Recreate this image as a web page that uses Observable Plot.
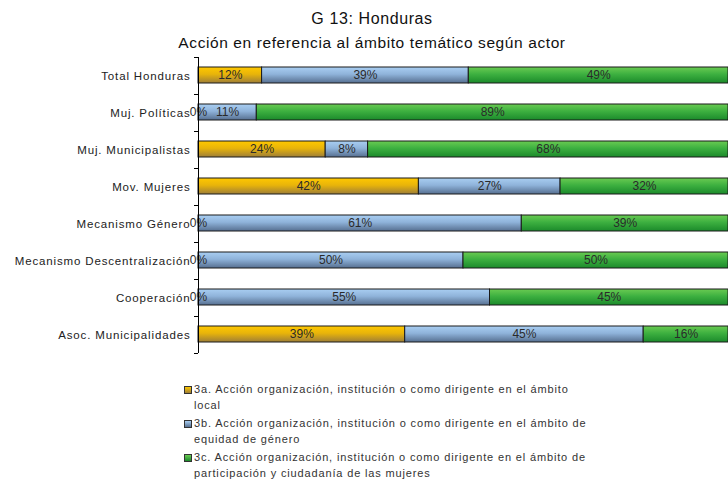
<!DOCTYPE html>
<html>
<head>
<meta charset="utf-8">
<script src="https://cdn.jsdelivr.net/npm/d3@7"></script>
<script src="https://cdn.jsdelivr.net/npm/@observablehq/plot@0.6"></script>
<style>
  html, body { margin: 0; padding: 0; background: #fff; }
  body { width: 728px; height: 486px; overflow: hidden; font-family: "Liberation Sans", Arial, sans-serif; color: #222; position: relative; }
  #title { height: 57px; padding-top: 8px; box-sizing: border-box; text-align: center; padding-left: 16px; font-family: "Liberation Sans", Arial, sans-serif; color: #111; }
  #title span { white-space: nowrap; }
  #title .t1 { font-size: 16px; line-height: 21px; letter-spacing: 0.6px; }
  #title .t2 { font-size: 15.5px; line-height: 28px; letter-spacing: 0.6px; }
  #chart svg { display: block; overflow: visible; }
  g[aria-label="y-axis tick label"] text { letter-spacing: 0.85px; }
  #legend { padding-top: 28px; padding-left: 184px; font-size: 11px; letter-spacing: 0.85px; color: #333; }
  .item { display: flex; align-items: flex-start; margin-bottom: 2px; line-height: 16px; }
  .sw { width: 6px; height: 6px; border: 1px solid #333; margin-top: 4.5px; margin-right: 2px; flex: none; }
  .lab { white-space: pre; }
</style>
</head>
<body>
<div id="title"><div class="t1"><span>G 13: Honduras</span></div><div class="t2"><span>Acción en referencia al ámbito temático según actor</span></div></div>
<div id="chart"></div>
<div id="legend"></div>
<script>
const actors = ["Total Honduras", "Muj. Políticas", "Muj. Municipalistas", "Mov. Mujeres", "Mecanismo Género", "Mecanismo Descentralización", "Cooperación", "Asoc. Municipalidades"];
const seriesNames = [
  "3a. Acción organización, institución o como dirigente en el ámbito\nlocal",
  "3b. Acción organización, institución o como dirigente en el ámbito de\nequidad de género",
  "3c. Acción organización, institución o como dirigente en el ámbito de\nparticipación y ciudadanía de las mujeres"
];
const seriesKeys = ["3a", "3b", "3c"];
const localVals = [12, 0, 24, 42, 0, 0, 0, 39];
const generoVals = [39, 11, 8, 27, 61, 50, 55, 45];
const participacionVals = [49, 89, 68, 32, 39, 50, 45, 16];
const gradients = [
  ["#FFC800", "#E8B40A", "#9E7E38"],
  ["#A9CEF2", "#8FB3DA", "#566F90"],
  ["#6ACB52", "#3DB040", "#1B8A2B"]
];

const valueSets = [localVals, generoVals, participacionVals];
const data = [];
actors.forEach((a, i) => {
  seriesKeys.forEach((s, j) => data.push({actor: a, serie: s, value: valueSets[j][i]}));
});

const step = 37;
const plot = Plot.plot({
  width: 728,
  height: 296,
  marginTop: 0,
  marginBottom: 0,
  marginLeft: 198,
  marginRight: 0,
  style: {fontFamily: "Liberation Sans, Arial, sans-serif", fontSize: "11.5px", color: "#222", overflow: "visible"},
  x: {domain: [0, 1], axis: null},
  y: {domain: actors, padding: 0, label: null, tickSize: 0, tickPadding: 8},
  color: {domain: seriesKeys, range: seriesKeys.map((s, j) => `url(#grad${j})`)},
  marks: [
    Plot.barX(data, Plot.stackX({x: "value", y: "actor", fill: "serie", offset: "normalize", insetTop: 10, insetBottom: 11, stroke: "#1a1a1a", strokeWidth: 1})),
    Plot.text(data, Plot.stackX({x: "value", y: "actor", z: "serie", offset: "normalize", text: d => d.value + "%", dy: -0.5, fill: "#2a2a2a", fontSize: 12, fontFamily: "Liberation Sans Narrow, Liberation Sans, sans-serif"})),
    Plot.ruleX([0], {stroke: "#000", strokeWidth: 1}),
    Plot.ruleY(actors, {y: d => d, x1: -4 / 530, x2: 0, dy: -step / 2, stroke: "#000", clip: false}),
    Plot.ruleY([actors[actors.length - 1]], {y: d => d, x1: -4 / 530, x2: 0, dy: step / 2, stroke: "#000", clip: false})
  ]
});

const defs = d3.select(plot).insert("defs", ":first-child");
gradients.forEach((g, j) => {
  const lg = defs.append("linearGradient").attr("id", `grad${j}`).attr("x1", 0).attr("y1", 0).attr("x2", 0).attr("y2", 1);
  lg.append("stop").attr("offset", "0%").attr("stop-color", g[0]);
  lg.append("stop").attr("offset", "45%").attr("stop-color", g[1]);
  lg.append("stop").attr("offset", "100%").attr("stop-color", g[2]);
});

document.getElementById("chart").appendChild(plot);

const legend = d3.select("#legend");
seriesNames.forEach((name, j) => {
  const it = legend.append("div").attr("class", "item");
  it.append("div").attr("class", "sw").style("background", `linear-gradient(${gradients[j][0]}, ${gradients[j][2]})`);
  const lab = it.append("div").attr("class", "lab");
  name.split("\n").forEach((ln, k) => { if (k) lab.append("br"); lab.append("span").text(ln); });
});
</script>
</body>
</html>
